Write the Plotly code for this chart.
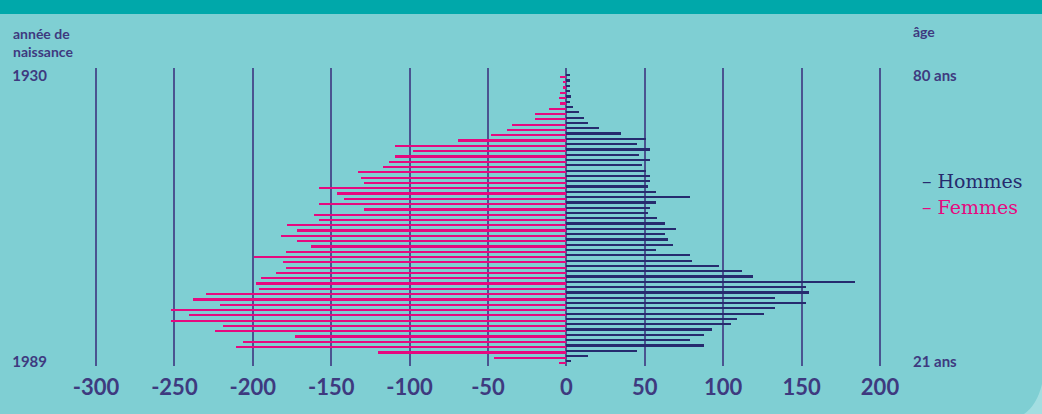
import plotly.graph_objects as go

# ---- data (row 0 = born 1930 / 80 ans, last row = born 1989 / 21 ans) ----
femmes = [-4, -2, -2, -4, -5, -4, -11, -20, -20, -35, -38, -48, -69, -109, -98, -109, -113, -117,
          -133, -131, -129, -158, -146, -142, -158, -129, -161, -158, -178, -172, -182, -172, -163, -179, -199, -181,
          -179, -185, -195, -198, -196, -230, -238, -221, -252, -241, -252, -219, -224, -173, -206, -211, -120, -46, -5]
hommes = [2, 2, 2, 2, 3, 2, 4, 8, 11, 14, 21, 35, 51, 45, 53, 46, 53, 48,
          51, 53, 53, 52, 57, 79, 57, 53, 52, 58, 63, 70, 63, 65, 68, 57, 79, 80,
          97, 112, 119, 184, 153, 155, 133, 153, 133, 126, 109, 105, 93, 88, 79, 88, 45, 14, 3]
rows = list(range(len(hommes)))
year_labels = ["1930", "1989"]
age_labels = ["80 ans", "21 ans"]
x_ticks = [-300, -250, -200, -150, -100, -50, 0, 50, 100, 150, 200]
x_tick_labels = ["-300", "-250", "-200", "-150", "-100", "-50", "0", "50", "100", "150", "200"]

BG = "#7fcfd3"
TOP = "#00a8aa"
PINK = "#e6097f"
NAVY = "#262b6e"
TXT = "#3e3a7f"
GRID = "#4a5490"

W, H = 1042, 414
ML, MR, MT, MB = 56, 137, 68, 48
PW, PH = W - ML - MR, H - MT - MB


def px(xp, yp):
    return (xp - ML) / PW, (H - MB - yp) / PH


fig = go.Figure()
fig.add_trace(go.Bar(y=rows, x=femmes, orientation="h", name="Femmes",
                     marker=dict(color=PINK, line=dict(width=0)),
                     width=0.42, offset=0.11, yaxis="y", showlegend=False))
fig.add_trace(go.Bar(y=rows, x=hommes, orientation="h", name="Hommes",
                     marker=dict(color=NAVY, line=dict(width=0)),
                     width=0.42, offset=-0.21, yaxis="y2", showlegend=False))

yrange = [len(rows) - 1 + 0.885, -1.375]
fnt = "Lato"

fig.update_layout(
    width=W, height=H,
    margin=dict(l=ML, r=MR, t=MT, b=MB),
    paper_bgcolor=BG, plot_bgcolor=BG,
    barmode="overlay",
    bargap=0,
    xaxis=dict(range=[-300 - (96 - ML) / 1.568, 200 + (ML + PW - 880) / 1.568],
               tickvals=x_ticks, ticktext=x_tick_labels,
               showgrid=True, gridcolor=GRID, gridwidth=2,
               zeroline=True, zerolinecolor=GRID, zerolinewidth=2,
               showline=False, ticks="", ticklabelstandoff=6,
               tickfont=dict(family=fnt, size=22, color=TXT, weight="bold")),
    yaxis=dict(range=yrange, tickvals=[0, len(rows) - 1], ticktext=year_labels,
               showgrid=False, zeroline=False, showline=False, ticks="",
               ticklabelstandoff=8,
               tickfont=dict(family=fnt, size=15, color=TXT, weight="bold")),
    yaxis2=dict(range=yrange, tickvals=[0, len(rows) - 1], ticktext=age_labels,
                overlaying="y", side="right",
                showgrid=False, zeroline=False, showline=False, ticks="",
                ticklabelstandoff=7,
                tickfont=dict(family=fnt, size=15, color=TXT, weight="bold")),
    font=dict(family=fnt, color=TXT),
)

# top band and bottom-right corner
x0, y0 = px(0, 14)
x1, y1 = px(W, 0)
fig.add_shape(type="rect", xref="paper", yref="paper", x0=x0, y0=y0, x1=x1, y1=y1,
              fillcolor=TOP, line=dict(width=0), layer="below")
a = px(1024, 414); b = px(1037, 405); c = px(1042, 384); d = px(1042, 414)
fig.add_shape(type="path", xref="paper", yref="paper",
              path=f"M {a[0]},{a[1]} Q {b[0]},{b[1]} {c[0]},{c[1]} L {d[0]},{d[1]} Z",
              fillcolor="#a3dee1", line=dict(width=0))

ax, ay = px(11, 23)
fig.add_annotation(xref="paper", yref="paper", x=ax, y=ay, xanchor="left", yanchor="top",
                   text="<b>année de<br>naissance</b>", showarrow=False, align="left",
                   font=dict(family=fnt, size=14, color=TXT))
gx, gy = px(911, 32)
fig.add_annotation(xref="paper", yref="paper", x=gx, y=gy, xanchor="left", yanchor="middle",
                   text="<b>âge</b>", showarrow=False,
                   font=dict(family=fnt, size=14, color=TXT))
hx, hy = px(920, 181)
fig.add_annotation(xref="paper", yref="paper", x=hx, y=hy, xanchor="left", yanchor="middle",
                   text="– Hommes", showarrow=False,
                   font=dict(family="DejaVu Serif", size=19, color=NAVY))
fx, fy = px(920, 207)
fig.add_annotation(xref="paper", yref="paper", x=fx, y=fy, xanchor="left", yanchor="middle",
                   text="– Femmes", showarrow=False,
                   font=dict(family="DejaVu Serif", size=19, color=PINK))

fig.write_html("out.html", config={"displayModeBar": False},
               post_script="document.body.style.margin='0';document.body.style.overflow='hidden';")
